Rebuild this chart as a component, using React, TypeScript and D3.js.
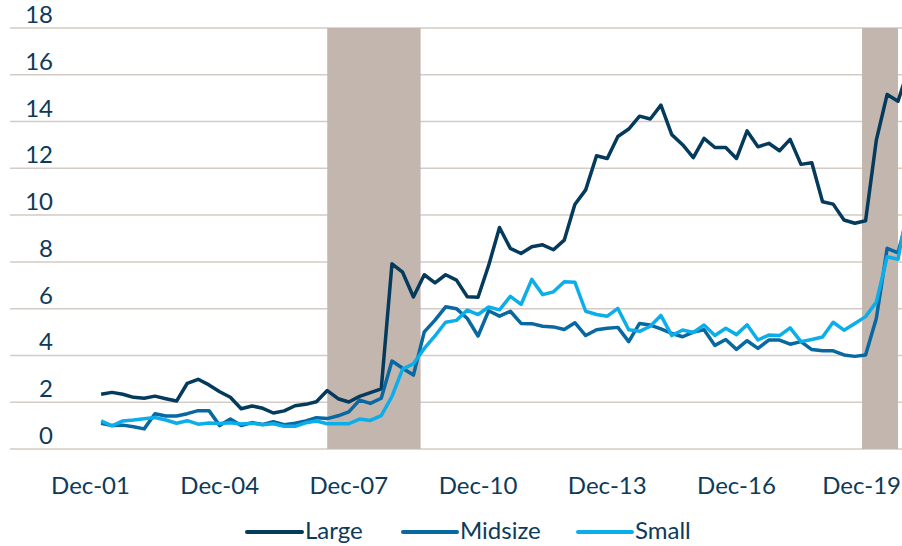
import React from 'react';
import * as d3 from 'd3';

// Quarterly observations, first one Mar-02
const firstDate = new Date(2002, 2, 1);
const large = [
  2.34, 2.42, 2.34, 2.21, 2.17, 2.26, 2.15, 2.05, 2.81, 2.98,
  2.74, 2.45, 2.21, 1.72, 1.84, 1.74, 1.54, 1.63, 1.85, 1.91,
  2.02, 2.50, 2.15, 2.01, 2.25, 2.41, 2.57, 7.92, 7.56, 6.50,
  7.45, 7.10, 7.45, 7.22, 6.51, 6.49, 7.85, 9.47, 8.58, 8.36,
  8.65, 8.73, 8.52, 8.93, 10.45, 11.08, 12.54, 12.42, 13.36, 13.68,
  14.23, 14.11, 14.70, 13.44, 13.01, 12.46, 13.28, 12.89, 12.89, 12.42,
  13.60, 12.92, 13.07, 12.75, 13.24, 12.17, 12.24, 10.57, 10.47, 9.79,
  9.65, 9.76, 13.20, 15.16, 14.87, 16.3,
];
const midsize = [
  1.10, 1.00, 1.02, 0.95, 0.86, 1.51, 1.41, 1.41, 1.51, 1.64,
  1.64, 1.00, 1.28, 1.00, 1.13, 1.05, 1.17, 1.04, 1.10, 1.20,
  1.34, 1.30, 1.42, 1.59, 2.09, 1.95, 2.17, 3.76, 3.45, 3.16,
  5.01, 5.51, 6.08, 6.00, 5.58, 4.83, 5.91, 5.68, 5.89, 5.37,
  5.36, 5.25, 5.22, 5.11, 5.40, 4.85, 5.10, 5.16, 5.20, 4.59,
  5.37, 5.30, 5.14, 4.94, 4.80, 5.00, 5.10, 4.43, 4.68, 4.26,
  4.63, 4.30, 4.66, 4.66, 4.48, 4.59, 4.25, 4.20, 4.20, 4.02,
  3.96, 4.02, 5.58, 8.58, 8.39, 10.1,
];
const small = [
  1.20, 0.99, 1.20, 1.24, 1.29, 1.35, 1.24, 1.10, 1.21, 1.06,
  1.11, 1.09, 1.12, 1.07, 1.10, 1.04, 1.08, 0.97, 0.97, 1.12,
  1.20, 1.08, 1.08, 1.08, 1.28, 1.22, 1.43, 2.25, 3.42, 3.64,
  4.30, 4.84, 5.42, 5.50, 5.94, 5.75, 6.07, 5.95, 6.53, 6.18,
  7.25, 6.60, 6.72, 7.15, 7.13, 5.89, 5.75, 5.68, 6.01, 5.10,
  5.03, 5.25, 5.71, 4.85, 5.09, 4.98, 5.30, 4.85, 5.16, 4.89,
  5.31, 4.66, 4.87, 4.85, 5.18, 4.59, 4.68, 4.79, 5.42, 5.08,
  5.37, 5.66, 6.28, 8.22, 8.11, 10.5,
];
const seriesNames = ['Large', 'Midsize', 'Small'];
const seriesColors = ['#043b5c', '#0768a2', '#0caeea'];
const tickYears = [2001, 2004, 2007, 2010, 2013, 2016, 2019];
const tickLabels = ['Dec-01', 'Dec-04', 'Dec-07', 'Dec-10', 'Dec-13', 'Dec-16', 'Dec-19'];
const yTicks = [0, 2, 4, 6, 8, 10, 12, 14, 16, 18];
// recession shading [startYear, startMonth, endYear, endMonth]
const recessions = [
  [2007, 5, 2009, 7],
  [2019, 10, 2020, 8],
];

const W = 902;
const H = 546;
const FONT = 'Lato, "Noto Sans", sans-serif';
const TEXT = '#0e3a5a';
const GRID = '#d3cbc5';
const SHADE = '#c3b6ae';

export default function App() {
  const x = d3
    .scaleTime()
    .domain([new Date(2001, 11, 1), new Date(2020, 8, 1)])
    .range([90.5, 898]);
  const y = d3.scaleLinear().domain([0, 18]).range([449, 28]);

  const dates = large.map((_, i) => d3.timeMonth.offset(firstDate, 3 * i));
  const series = [large, midsize, small];
  const line = d3
    .line<number>()
    .x((_, i) => x(dates[i]))
    .y((d) => y(d));

  const legendLayout = [
    { x1: 247, x2: 302, tx: 305 },
    { x1: 403, x2: 457, tx: 460 },
    { x1: 578, x2: 632, tx: 635 },
  ];

  return (
    <svg
      width={W}
      height={H}
      style={{ position: 'absolute', left: 0, top: 0, display: 'block', background: '#fff' }}
    >
      <defs>
        <clipPath id="plot">
          <rect x={0} y={0} width={W} height={460} />
        </clipPath>
      </defs>
      {yTicks.map((t) => (
        <g key={t}>
          <line x1={10} x2={W} y1={y(t)} y2={y(t)} stroke={GRID} strokeWidth={1.5} />
          <text
            x={53}
            y={y(t) - 5}
            textAnchor="end"
            fontFamily={FONT}
            fontSize={24}
            fill={TEXT}
          >
            {t}
          </text>
        </g>
      ))}
      {recessions.map((r, i) => {
        const x0 = x(new Date(r[0], r[1], 1));
        const x1 = x(new Date(r[2], r[3], 1));
        return (
          <rect key={i} x={x0} y={y(18)} width={x1 - x0} height={y(0) - y(18)} fill={SHADE} />
        );
      })}
      <g clipPath="url(#plot)">
        {series.map((s, i) => (
          <path
            key={i}
            d={line(s) || ''}
            fill="none"
            stroke={seriesColors[i]}
            strokeWidth={3.5}
            strokeLinejoin="round"
          />
        ))}
      </g>
      {tickYears.map((yr, i) => {
        const cx = x(new Date(yr, 11, 1));
        const last = cx + 37 > W - 1;
        return (
          <text
            key={yr}
            x={last ? W - 1 : cx}
            y={494}
            textAnchor={last ? 'end' : 'middle'}
            fontFamily={FONT}
            fontSize={24}
            fill={TEXT}
          >
            {tickLabels[i]}
          </text>
        );
      })}
      {seriesNames.map((n, i) => (
        <g key={n}>
          <line
            x1={legendLayout[i].x1}
            x2={legendLayout[i].x2}
            y1={532}
            y2={532}
            stroke={seriesColors[i]}
            strokeWidth={4}
            strokeLinecap="round"
          />
          <text x={legendLayout[i].tx} y={539} fontFamily={FONT} fontSize={24} fill={TEXT}>
            {n}
          </text>
        </g>
      ))}
    </svg>
  );
}
